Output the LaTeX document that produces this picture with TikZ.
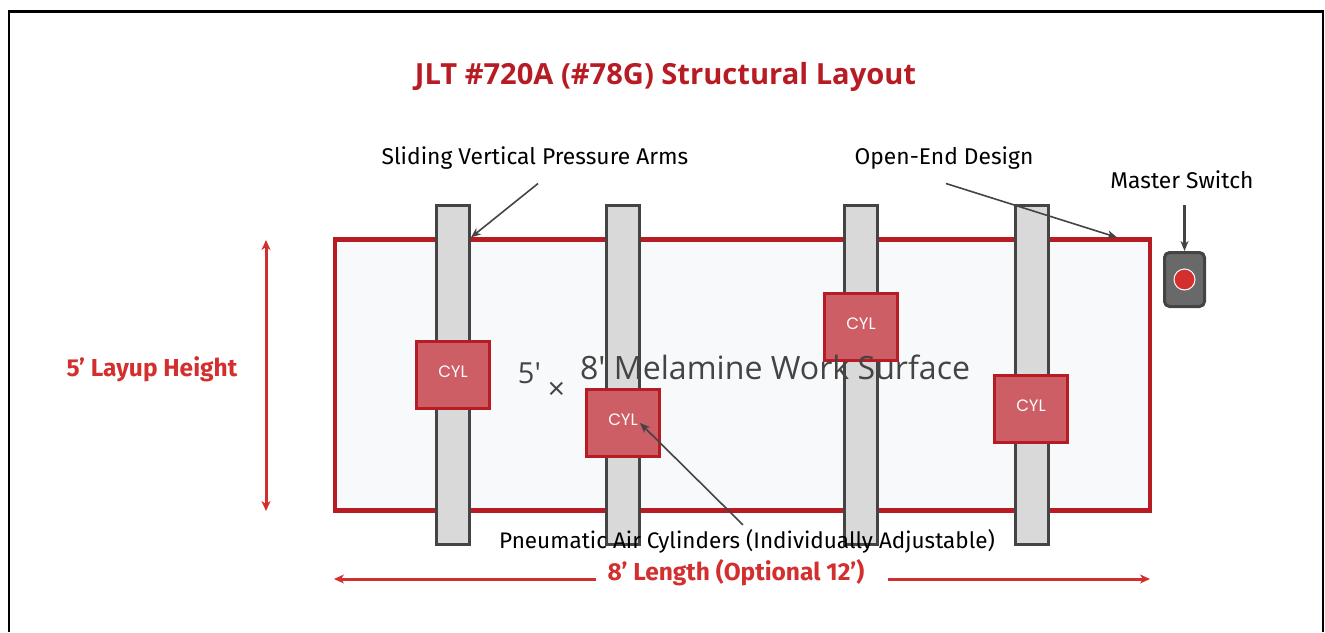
\documentclass[tikz,border=0pt]{standalone}
\usepackage{fontspec}
\usepackage{tikz}
\usetikzlibrary{arrows.meta}
\setmainfont{Open Sans}
\newfontfamily\surfacefont{Open Sans}
\newfontfamily\labelfont{Fira Sans}
\newfontfamily\cylfont{Poppins}
\definecolor{framered}{HTML}{B71C24}
\definecolor{dimred}{HTML}{D32F2F}
\definecolor{cylred}{HTML}{CD5E65}
\definecolor{armgray}{HTML}{D9D9D9}
\definecolor{darkgray}{HTML}{444444}
\definecolor{surfacegray}{HTML}{F8F9FA}
\tikzset{
  surfacebox/.style={draw=framered,line width=4.2pt,fill=surfacegray,minimum width=815,minimum height=271,inner sep=0pt},
  armbar/.style={draw=darkgray,line width=3pt,fill=armgray,minimum width=33,minimum height=339,inner sep=0pt},
  cylbox/.style={draw=framered,line width=3pt,fill=cylred,minimum width=73,minimum height=67,inner sep=0pt,text=white,text height=11pt,text depth=7pt,font=\cylfont\fontsize{16.5}{18}\selectfont},
  callout/.style={draw=darkgray,line width=1.6pt,-{Stealth[length=10pt,width=8pt,inset=3pt]}},
  dimline/.style={draw=dimred,line width=3pt,-{Stealth[length=10pt,width=9pt,inset=3pt]}},
  calltext/.style={font=\labelfont\fontsize{22.8}{26}\selectfont,inner sep=0pt},
  dimtext/.style={font=\labelfont\bfseries\fontsize{24.5}{28}\selectfont,text=dimred,inner sep=0pt}
}
\newcommand{\armnode}{\node[armbar]}
\newcommand{\cylnode}{\node[cylbox]}
\begin{document}
\begin{tikzpicture}[x=1pt,y=-1pt]
      \useasboundingbox (0,0) rectangle (1325,632);
      \draw[black,line width=2.5pt] (9.2,632) -- (9.2,11.5) -- (1323,11.5) -- (1323,632); % 
      \node[font=\bfseries\fontsize{29.1}{33}\selectfont,text=framered] (title) at (665.5,77) {JLT \#720A (\#78G) Structural Layout};
      \node[surfacebox] (surface) at (742.5,375) {}; % 
      \armnode (arm1) at (453,375) {}; 
      \armnode (arm2) at (623,375) {}; 
      \armnode (arm3) at (861,375) {}; 
      \armnode (arm4) at (1031.5,375) {}; 
      \cylnode (cyl1) at (453,375) {CYL}; 
      \cylnode (cyl2) at (623,423) {CYL}; 
      \cylnode (cyl3) at (861,327) {CYL}; 
      \cylnode (cyl4) at (1031,409) {CYL}; 
      \node[text=darkgray,font=\surfacefont\fontsize{32.1}{36}\selectfont,inner sep=0pt] (surfacetext) at (744,377.5) {\raisebox{-4pt}{\fontsize{29}{32}\selectfont 5′}\hspace{7pt}\raisebox{-20pt}{\fontsize{30}{32}\selectfont ×}\hspace{15pt}8' Melamine Work Surface};
      \node[draw=darkgray,line width=3pt,fill=darkgray!80,rounded corners=5pt,minimum width=40,minimum height=54,inner sep=0pt] (switch) at (1184.5,279.5) {};
      \node[circle,draw=white,line width=1pt,fill=dimred,minimum size=21,inner sep=0pt] (lamp) at (switch.center) {};
      \node[calltext] (armlabel) at (535,158) {Sliding Vertical Pressure Arms};
      \node[calltext] (openlabel) at (944,158) {Open-End Design};
      \node[calltext] (switchlabel) at (1182,180) {Master Switch};
      \node[calltext,font=\labelfont\fontsize{22.5}{26}\selectfont] (cyllabel) at (747,541) {Pneumatic Air Cylinders (Individually Adjustable)};
      \node[dimtext] (heightlabel) at (152,369) {5’ Layup Height};
      \node[dimtext] (lengthlabel) at (736,573) {8’ Length (Optional 12’)};
      \coordinate (heighttop) at (266,240);
      \coordinate (heightbot) at (266,511);
      \coordinate (lengthleft) at (334,579);
      \coordinate (lengthright) at (1150,579);
      \draw[callout] ([xshift=3pt,yshift=-14pt]armlabel.south) -- (arm1.east |- surface.north);
      \draw[callout] ([xshift=2pt,yshift=-14pt]openlabel.south) -- ([xshift=-35pt]surface.north east);
      \draw[callout] ([xshift=-4pt,yshift=4pt]cyllabel.north) -- ([xshift=17pt]cyl2.center);
      \draw[callout,line width=2.5pt] ([xshift=2.5pt,yshift=-16pt]switchlabel.south) -- (switch.north);
      \draw[dimline,{Stealth[length=10pt,width=9pt,inset=3pt]}-{Stealth[length=10pt,width=9pt,inset=3pt]}] (heighttop) -- (heightbot);
      \draw[dimline] ([xshift=-11pt]lengthlabel.west |- lengthleft) -- (lengthleft);
      \draw[dimline] ([xshift=23pt]lengthlabel.east |- lengthright) -- (lengthright);
    \end{tikzpicture}
\end{document}
